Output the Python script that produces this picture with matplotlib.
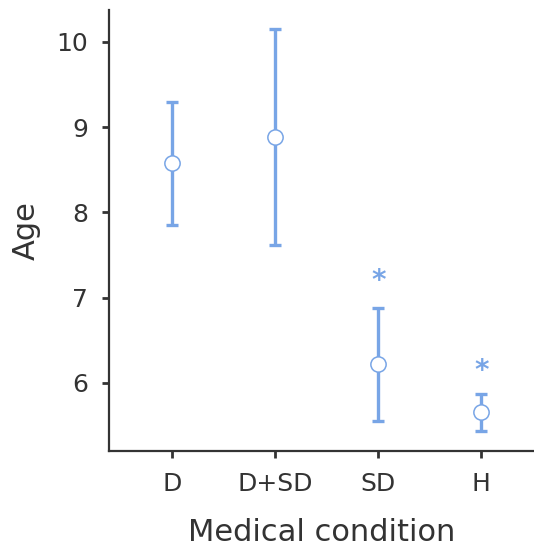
import matplotlib
matplotlib.use("Agg")
import matplotlib.pyplot as plt

categories = ["D", "D+SD", "SD", "H"]
means = [8.58, 8.89, 6.22, 5.66]
upper = [9.30, 10.15, 6.88, 5.87]
lower = [7.85, 7.62, 5.55, 5.44]
significant = [False, False, True, True]
star_y = [None, None, 7.19, 6.14]

color = "#78a5e6"
text_color = "#333333"

fig = plt.figure(figsize=(5.34, 5.47), dpi=100)
ax = fig.add_axes([109/534, 1 - 451/547, 1 - 109/534, (451 - 10)/547])

x = list(range(len(categories)))
yerr = [[m - l for m, l in zip(means, lower)], [u - m for m, u in zip(means, upper)]]
ax.errorbar(x, means, yerr=yerr, fmt='none', ecolor=color, elinewidth=2.4,
            capsize=4.5, capthick=2.4, zorder=2)
ax.plot(x, means, 'o', ms=11, mfc='white', mec=color, mew=1.1, zorder=3)
for xi, s, sy in zip(x, significant, star_y):
    if s:
        ax.text(xi, sy, "*", color=color, fontsize=20, fontweight='bold',
                ha='center', va='center')

ax.set_xlim(-0.61, 3.51)
ax.set_ylim(5.2, 10.375)
ax.set_xticks(x)
ax.set_xticklabels(categories)
ax.set_yticks([6, 7, 8, 9, 10])
ax.set_xlabel("Medical condition", fontsize=22, color=text_color, labelpad=16)
ax.set_ylabel("Age", fontsize=22, color=text_color, labelpad=11)
ax.tick_params(axis='both', labelsize=18, colors=text_color, length=5, width=2, pad=10)
for sp in ["top", "right"]:
    ax.spines[sp].set_visible(False)
for sp in ["left", "bottom"]:
    ax.spines[sp].set_linewidth(1.6)
    ax.spines[sp].set_color(text_color)

fig.savefig("out.png", dpi=100)
